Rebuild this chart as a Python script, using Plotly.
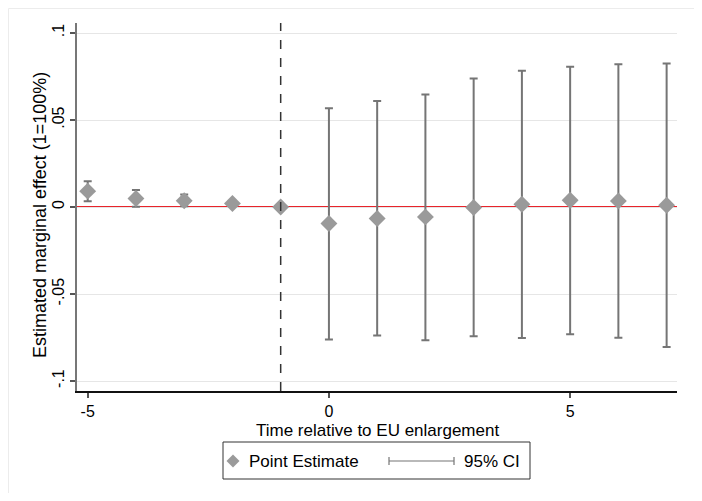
import plotly.graph_objects as go

# ---- data ----
periods = [-5, -4, -3, -2, -1, 0, 1, 2, 3, 4, 5, 6, 7]
estimates = [0.0091, 0.0049, 0.0036, 0.0020, 0.0, -0.0095, -0.0066, -0.0057, -0.0003, 0.0016, 0.0039, 0.0035, 0.0010]
ci_low = [0.0033, 0.0001, 0.0004, 0.0008, 0.0, -0.0762, -0.0739, -0.0766, -0.0743, -0.0753, -0.0732, -0.0751, -0.0805]
ci_high = [0.0148, 0.0097, 0.0072, 0.0032, 0.0, 0.0567, 0.0609, 0.0647, 0.0739, 0.0783, 0.0806, 0.0821, 0.0825]
y_ticks = [-0.1, -0.05, 0, 0.05, 0.1]
y_tick_labels = ["-.1", "-.05", "0", ".05", ".1"]
x_ticks = [-5, 0, 5]
x_tick_labels = ["-5", "0", "5"]
event_time = -1

# page layout (page has an 8px body margin)
OFF = 8
PLOT_L, PLOT_T, PLOT_R, PLOT_B = 77, 23, 677, 391
W, H = 686, 485
L = PLOT_L - OFF
T = PLOT_T - OFF
R = OFF + W - PLOT_R
B = OFF + H - PLOT_B
PW, PH = PLOT_R - PLOT_L, PLOT_B - PLOT_T

def px_x(p):
    return (p - PLOT_L) / PW

def px_y(p):
    return (PLOT_B - p) / PH

FONT = "Liberation Sans, Arial, sans-serif"
GRAY_M = "#9a9a9a"
GRAY_E = "#757575"

ci_x, ci_y, err = [], [], []
for p, lo, hi in zip(periods, ci_low, ci_high):
    if hi - lo > 0:
        ci_x.append(p)
        ci_y.append((lo + hi) / 2)
        err.append((hi - lo) / 2)

fig = go.Figure()
fig.add_trace(go.Scatter(
    x=ci_x, y=ci_y, mode="markers",
    marker=dict(size=1, color="rgba(0,0,0,0)"),
    error_y=dict(type="data", symmetric=True, array=err,
                 color=GRAY_E, thickness=2, width=4),
    showlegend=False, hoverinfo="skip",
))
fig.add_trace(go.Scatter(
    x=periods, y=estimates, mode="markers",
    marker=dict(symbol="diamond", size=13, color=GRAY_M),
    showlegend=False,
))

shapes = [
    dict(type="line", xref="x", yref="paper", x0=event_time, x1=event_time, y0=0, y1=1,
         line=dict(color="#333333", width=1.5, dash="dash"), layer="above"),
    dict(type="line", xref="paper", yref="y", x0=0, x1=1, y0=0, y1=0,
         line=dict(color="#e8242b", width=2), layer="below"),
    # outer frame (faint)
    dict(type="line", xref="paper", yref="paper", x0=px_x(8.5), x1=px_x(695), y0=px_y(8.5), y1=px_y(8.5),
         line=dict(color="#ececec", width=1)),
    dict(type="line", xref="paper", yref="paper", x0=px_x(8.5), x1=px_x(8.5), y0=px_y(8.5), y1=px_y(500),
         line=dict(color="#ececec", width=1)),
    # legend box
    dict(type="rect", xref="paper", yref="paper", x0=px_x(223), x1=px_x(530), y0=px_y(442), y1=px_y(479),
         line=dict(color="#333333", width=1), fillcolor="white"),
    # legend diamond
    dict(type="path", xref="paper", yref="paper",
         path=f"M {px_x(233)} {px_y(454.5)} L {px_x(239.5)} {px_y(461)} L {px_x(233)} {px_y(467.5)} L {px_x(226.5)} {px_y(461)} Z",
         line=dict(color=GRAY_M, width=0), fillcolor=GRAY_M),
    # legend CI line
    dict(type="line", xref="paper", yref="paper", x0=px_x(389), x1=px_x(454), y0=px_y(461), y1=px_y(461),
         line=dict(color=GRAY_E, width=1.2)),
    dict(type="line", xref="paper", yref="paper", x0=px_x(389), x1=px_x(389), y0=px_y(457), y1=px_y(465),
         line=dict(color=GRAY_E, width=1.2)),
    dict(type="line", xref="paper", yref="paper", x0=px_x(454), x1=px_x(454), y0=px_y(457), y1=px_y(465),
         line=dict(color=GRAY_E, width=1.2)),
]

annotations = [
    dict(text="Point Estimate", xref="paper", yref="paper", x=px_x(247), y=px_y(461),
         xanchor="left", yanchor="middle", showarrow=False, font=dict(family=FONT, size=17, color="#000")),
    dict(text="95% CI", xref="paper", yref="paper", x=px_x(462), y=px_y(461),
         xanchor="left", yanchor="middle", showarrow=False, font=dict(family=FONT, size=17, color="#000")),
    # axis titles
    dict(text="Time relative to EU enlargement", xref="paper", yref="paper", x=px_x(377), y=px_y(430),
         xanchor="center", yanchor="middle", showarrow=False, font=dict(family=FONT, size=17, color="#000")),
    dict(text="Estimated marginal effect (1=100%)", xref="paper", yref="paper", x=px_x(40), y=px_y(215),
         xanchor="center", yanchor="middle", textangle=-90, showarrow=False,
         font=dict(family=FONT, size=18, color="#000")),
]

fig.update_layout(
    width=W, height=H,
    margin=dict(l=L, r=R, t=T, b=B, pad=0, autoexpand=False),
    paper_bgcolor="white", plot_bgcolor="white",
    font=dict(family=FONT, size=17, color="#000"),
    showlegend=False,
    shapes=shapes, annotations=annotations,
    xaxis=dict(
        range=[-5.222, 7.215], tickvals=x_ticks, ticktext=x_tick_labels,
        ticks="outside", ticklen=5,
        tickcolor="#555", tickwidth=1.5, automargin=False,
        showline=True, linecolor="#111", linewidth=1.5, showgrid=False, zeroline=False,
        tickfont=dict(size=16),
    ),
    yaxis=dict(
        range=[-0.10575, 0.10575], tickvals=y_ticks, ticktext=y_tick_labels,
        tickangle=-90, ticks="outside", ticklen=5, tickcolor="#555", tickwidth=1.5,
        showline=True, linecolor="#777", linewidth=2, automargin=False,
        showgrid=True, gridcolor="#e6e6e6", gridwidth=1, zeroline=False,
        tickfont=dict(size=16),
    ),
)

fig.write_html("out.html")
